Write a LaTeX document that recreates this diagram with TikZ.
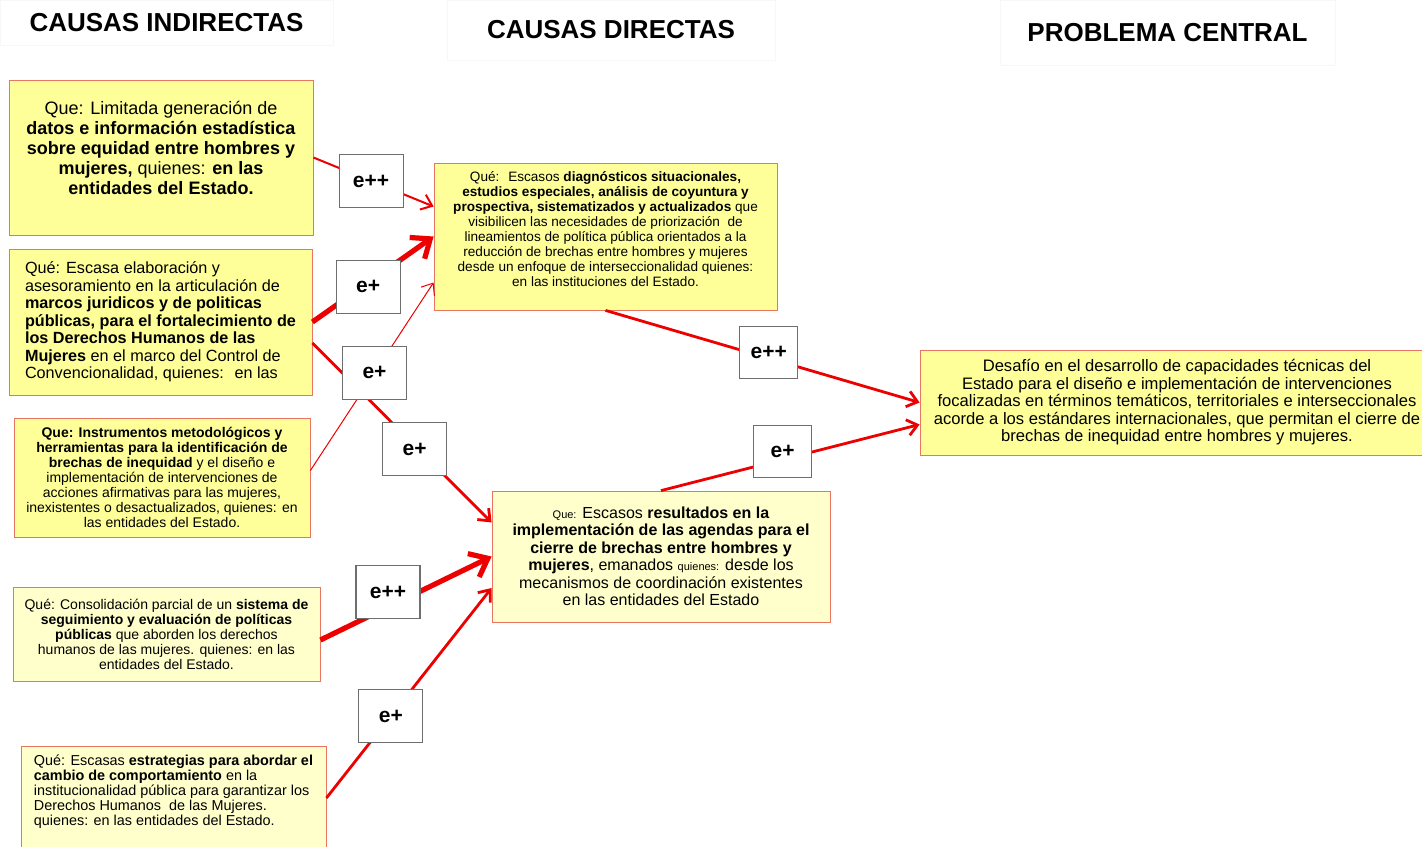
\documentclass[tikz,border=0pt]{standalone}
\usepackage{fontspec}
\setmainfont{Liberation Sans}
\usetikzlibrary{arrows.meta}
\definecolor{boxyellow}{RGB}{255,255,153}
\definecolor{paleyellow}{RGB}{255,255,204}
\definecolor{boxedge}{RGB}{232,118,96}
\definecolor{linkred}{RGB}{236,0,0}
\definecolor{effedge}{RGB}{110,110,110}
\tikzset{
  titlebox/.style={rectangle, draw=black!3, fill=white, inner sep=0pt,
                   font=\fontsize{13}{15}\selectfont\bfseries},
  causebox/.style={rectangle, draw=boxedge, fill=boxyellow, inner sep=2pt, align=center},
  palebox/.style={causebox, fill=paleyellow},
  effbox/.style={rectangle, draw=effedge, fill=white, line width=0.6pt, minimum width=32pt,
                 minimum height=26.5pt, inner sep=0pt, font=\fontsize{10.5}{12}\selectfont\bfseries},
  link/.style={draw=linkred, line width=1pt, -{Straight Barb[length=5pt,width=8pt]}},
  thinlink/.style={link, line width=0.5pt},
  midlink/.style={link, line width=1.4pt},
  thicklink/.style={link, line width=2.6pt, -{Straight Barb[length=8pt,width=13pt]}}
}
\begin{document}
\begin{tikzpicture}[x=0.5pt, y=-0.5pt]
  \clip (0,0) rectangle (1422,846);
  \fill[white] (0,0) rectangle (1422,846);

  \node[titlebox, minimum width=166.5pt, minimum height=22.5pt] (tind) at (166.5,22.5) {CAUSAS INDIRECTAS};
  \node[titlebox, minimum width=164pt, minimum height=30pt] (tdir) at (611,30) {CAUSAS DIRECTAS};
  \node[titlebox, minimum width=167.5pt, minimum height=32.5pt] (tprob) at (1167.5,32.5) {PROBLEMA CENTRAL};

  \node[causebox, minimum width=152pt, minimum height=77.5pt, font=\fontsize{9}{10}\selectfont] (ind1) at (161,157.5)
    {Que: Limitada generación de\\ \textbf{datos e información estadística}\\ \textbf{sobre equidad entre hombres y}\\
     \textbf{mujeres,} quienes: \textbf{en las}\\ \textbf{entidades del Estado.}\\ \mbox{}};
  \node[causebox, align=left, minimum width=151.5pt, minimum height=73pt, font=\fontsize{8.1}{8.75}\selectfont] (ind2) at (160.5,322)
    {Qué: Escasa elaboración y\\ asesoramiento en la articulación de\\ \textbf{marcos juridicos y de politicas}\\
     \textbf{públicas, para el fortalecimiento de}\\ \textbf{los Derechos Humanos de las}\\
     \textbf{Mujeres} en el marco del Control de\\ Convencionalidad, quienes:~ en las};
  \node[causebox, minimum width=148pt, minimum height=59.5pt, font=\fontsize{7}{7.5}\selectfont] (ind3) at (162,477.5)
    {\textbf{Que: Instrumentos metodológicos y}\\ \textbf{herramientas para la identificación de}\\
     \textbf{brechas de inequidad} y el diseño e\\ implementación de intervenciones de\\
     acciones afirmativas para las mujeres,\\ inexistentes o desactualizados, quienes: en\\ las entidades del Estado.};
  \node[palebox, minimum width=153.5pt, minimum height=47pt, font=\fontsize{7}{7.5}\selectfont] (ind4) at (166.5,634)
    {Qué: Consolidación parcial de un \textbf{sistema de}\\ \textbf{seguimiento y evaluación de políticas}\\
     \textbf{públicas} que aborden los derechos\\ humanos de las mujeres. quienes: en las\\ entidades del Estado.};
  \node[palebox, align=left, minimum width=152.5pt, minimum height=52pt, font=\fontsize{7.2}{7.5}\selectfont] (ind5) at (173.5,798)
    {Qué: Escasas \textbf{estrategias para abordar el}\\ \textbf{cambio de comportamiento} en la\\
     institucionalidad pública para garantizar los\\ Derechos Humanos~ de las Mujeres.\\
     quienes: en las entidades del Estado.\\ \mbox{}};

  \node[causebox, minimum width=171.5pt, minimum height=73.5pt, font=\fontsize{6.8}{7.5}\selectfont] (dir1) at (605.5,236.5)
    {Qué:~ Escasos \textbf{diagnósticos situacionales,}\\ \textbf{estudios especiales, análisis de coyuntura y}\\
     \textbf{prospectiva, sistematizados y actualizados} que\\ visibilicen las necesidades de priorización~ de\\
     lineamientos de política pública orientados a la\\ reducción de brechas entre hombres y mujeres\\
     desde un enfoque de interseccionalidad quienes:\\ en las instituciones del Estado.\\ \mbox{}};
  \node[palebox, minimum width=169pt, minimum height=65.5pt, font=\fontsize{8}{8.75}\selectfont] (dir2) at (661,556.5)
    {{\fontsize{5.5}{6}\selectfont Que:} Escasos \textbf{resultados en la}\\ \textbf{implementación de las agendas para el}\\
     \textbf{cierre de brechas entre hombres y}\\ \textbf{mujeres}, emanados {\fontsize{5.5}{6}\selectfont quienes:} desde los\\
     mecanismos de coordinación existentes\\ en las entidades del Estado};

  \node[causebox, minimum width=257pt, minimum height=52.5pt, font=\fontsize{8.3}{8.75}\selectfont] (pcen) at (1177,402.5)
    {Desafío en el desarrollo de capacidades técnicas del\\ Estado para el diseño e implementación de intervenciones\\
     focalizadas en términos temáticos, territoriales e interseccionales\\
     acorde a los estándares internacionales, que permitan el cierre de\\ brechas de inequidad entre hombres y mujeres.};

  \draw[link] (ind1.east) -- node[effbox, pos=0.48] (e1) {e++} ([yshift=15pt]dir1.west);
  \draw[thicklink] (ind2.east) -- node[effbox, pos=0.46, yshift=-2pt] (e2) {e+} (dir1.west);
  \draw[midlink] ([yshift=-10.5pt]ind2.east) -- node[effbox, pos=0.57, yshift=-2pt] (e4) {e+} ([yshift=17pt]dir2.west);
  \draw[thinlink] ([yshift=3.5pt]ind3.east) -- node[effbox, pos=0.52] (e3) {e+} ([yshift=-23pt]dir1.west);
  \draw[thicklink] ([yshift=-3pt]ind4.east) -- node[effbox, pos=0.43, xshift=-3pt, yshift=6pt] (e5) {e++} (dir2.west);
  \draw[midlink] (ind5.east) -- node[effbox, pos=0.39] (e6) {e+} ([yshift=-15.75pt]dir2.west);
  \draw[midlink] (dir1.south) -- node[effbox, pos=0.52, yshift=3pt, minimum width=29pt, minimum height=26pt] (e7) {e++} (pcen.west);
  \draw[midlink] (dir2.north) -- node[effbox, pos=0.47, yshift=4pt, minimum width=29pt, minimum height=26pt] (e8) {e+} ([yshift=-11pt]pcen.west);
\end{tikzpicture}
\end{document}
